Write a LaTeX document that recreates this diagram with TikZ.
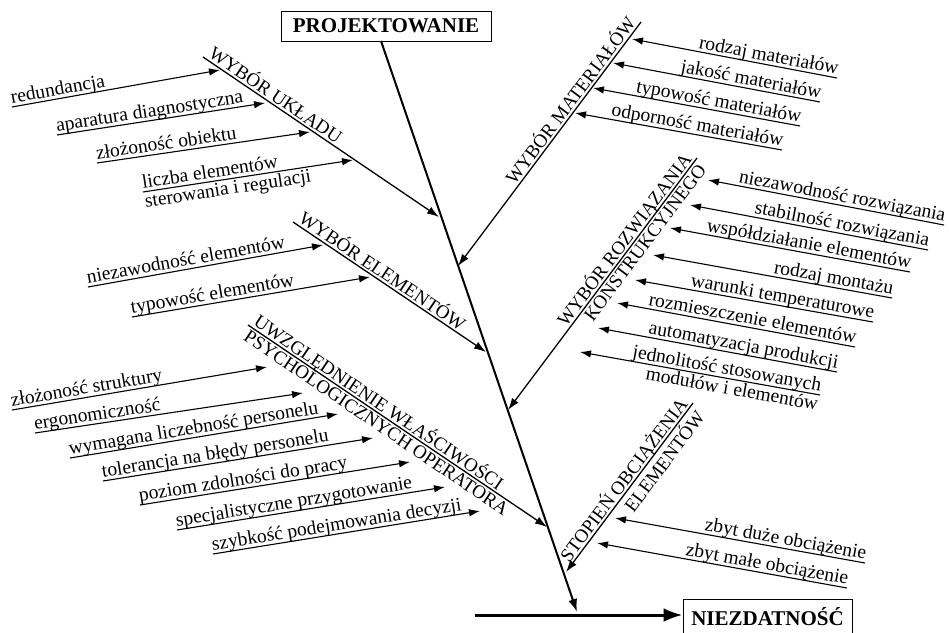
\documentclass[tikz,border=0pt]{standalone}
\usepackage{fontspec}
\setmainfont{Liberation Serif}
\usetikzlibrary{arrows.meta}
\tikzset{
  sub/.style={line width=1.1pt, -{Latex[length=11pt,width=7.5pt]}},
  branch/.style={line width=1.3pt, -{Latex[length=12pt,width=8pt]}},
  spine/.style={line width=2pt, -{Latex[length=13pt,width=9pt]}},
  mainarrow/.style={line width=3pt, -{Latex[length=19pt,width=14pt]}},
  txt/.style={font=\fontsize{19.5}{21}\selectfont, inner xsep=0pt, inner ysep=3pt, text depth=0pt, sloped},
  txtb/.style={font=\fontsize{19.5}{21}\selectfont, inner xsep=0pt, inner ysep=1.5pt, sloped},
  captxt/.style={font=\fontsize{19}{21}\selectfont, inner xsep=3pt, inner ysep=2pt, text depth=0pt, sloped},
  captxtb/.style={font=\fontsize{19}{21}\selectfont, inner xsep=3pt, inner ysep=2pt, sloped},
  hdr/.style={draw, line width=1pt, font=\bfseries\fontsize{21}{23}\selectfont, inner sep=0pt}
}
\begin{document}
\begin{tikzpicture}[x=1pt,y=-1pt]
\useasboundingbox (0,0) rectangle (949,632);
% headers
\node[hdr, minimum width=210pt, minimum height=30pt] (proj) at (386,26) {PROJEKTOWANIE};
\node[hdr, minimum width=169pt, minimum height=35pt] (niez) at (767.5,616.5) {NIEZDATNOŚĆ};
% spine
\coordinate (sp0) at (381,41);
\coordinate (sp1) at (577,612);
\draw[spine] (sp0) -- (sp1);
\coordinate (h0) at (475,615);
\draw[mainarrow] (h0) -- (niez.west |- h0);
% branch coordinates
\coordinate (b1a) at (203,57);  \coordinate (b1b) at (439,217);
\coordinate (b2a) at (293,222); \coordinate (b2b) at (486,352);
\coordinate (b3a) at (248,325); \coordinate (b3b) at (547,527);
\coordinate (b4a) at (641,22);  \coordinate (b4b) at (458,266);
\coordinate (b5a) at (697,158); \coordinate (b5b) at (508,410);
\coordinate (b6a) at (693,403); \coordinate (b6b) at (566,572);
\draw[branch] (b1a) -- node[captxt, pos=0, anchor=south west] (c1) {WYBÓR UKŁADU} (b1b);
\draw[branch] (b2a) -- node[captxt, pos=0, anchor=south west] (c2) {WYBÓR ELEMENTÓW} (b2b);
\draw[branch] (b3a) -- node[captxt, pos=0, anchor=south west] (c3) {UWZGLĘDNIENIE WŁAŚCIWOŚCI}
                       node[captxtb, pos=0, anchor=north west] (c3b) {PSYCHOLOGICZNYCH OPERATORA} (b3b);
\draw[branch] (b4a) -- node[captxt, pos=0, anchor=south east] (c4) {WYBÓR MATERIAŁÓW} (b4b);
\draw[branch] (b5a) -- node[captxt, pos=0, anchor=south east] (c5) {WYBÓR ROZWIĄZANIA}
                       node[captxtb, pos=0, anchor=north east] (c5b) {KONSTRUKCYJNEGO} (b5b);
\draw[branch] (b6a) -- node[captxt, pos=0, anchor=south east] (c6) {STOPIEŃ OBCIĄŻENIA}
                       node[captxtb, pos=0, anchor=north east] (c6b) {ELEMENTÓW} (b6b);
% left sub-causes
\coordinate (l1a) at (12,107);  \coordinate (l1b) at (220,70);
\coordinate (l2a) at (57,135);  \coordinate (l2b) at (265,103);
\coordinate (l3a) at (97,163);  \coordinate (l3b) at (310,132);
\coordinate (l4a) at (143,192); \coordinate (l4b) at (353,160);
\coordinate (l5a) at (88,287);  \coordinate (l5b) at (323,245);
\coordinate (l6a) at (132,317); \coordinate (l6b) at (370,277);
\coordinate (l7a) at (12,410);  \coordinate (l7b) at (267,367);
\coordinate (l8a) at (35,433);  \coordinate (l8b) at (303,393);
\coordinate (l9a) at (70,458);  \coordinate (l9b) at (338,414);
\coordinate (l10a) at (103,481); \coordinate (l10b) at (373,438);
\coordinate (l11a) at (140,505); \coordinate (l11b) at (410,462);
\coordinate (l12a) at (177,530); \coordinate (l12b) at (445,487);
\coordinate (l13a) at (213,554); \coordinate (l13b) at (480,511);
\draw[sub] (l1a) -- node[txt, pos=0, anchor=south west] (t1) {redundancja} (l1b);
\draw[sub] (l2a) -- node[txt, pos=0, anchor=south west] (t2) {aparatura diagnostyczna} (l2b);
\draw[sub] (l3a) -- node[txt, pos=0, anchor=south west] (t3) {złożoność obiektu} (l3b);
\draw[sub] (l4a) -- node[txt, pos=0, anchor=south west] (t4) {liczba elementów}
                    node[txtb, pos=0, anchor=north west] (t4b) {sterowania i regulacji} (l4b);
\draw[sub] (l5a) -- node[txt, pos=0, anchor=south west] (t5) {niezawodność elementów} (l5b);
\draw[sub] (l6a) -- node[txt, pos=0, anchor=south west] (t6) {typowość elementów} (l6b);
\draw[sub] (l7a) -- node[txt, pos=0, anchor=south west] (t7) {złożoność struktury} (l7b);
\draw[sub] (l8a) -- node[txt, pos=0, anchor=south west] (t8) {ergonomiczność} (l8b);
\draw[sub] (l9a) -- node[txt, pos=0, anchor=south west] (t9) {wymagana liczebność personelu} (l9b);
\draw[sub] (l10a) -- node[txt, pos=0, anchor=south west] (t10) {tolerancja na błędy personelu} (l10b);
\draw[sub] (l11a) -- node[txt, pos=0, anchor=south west] (t11) {poziom zdolności do pracy} (l11b);
\draw[sub] (l12a) -- node[txt, pos=0, anchor=south west] (t12) {specjalistyczne przygotowanie} (l12b);
\draw[sub] (l13a) -- node[txt, pos=0, anchor=south west] (t13) {szybkość podejmowania decyzji} (l13b);
% right sub-causes
\coordinate (r1a) at (837,78);  \coordinate (r1b) at (632,39);
\coordinate (r2a) at (820,102); \coordinate (r2b) at (613,63);
\coordinate (r3a) at (800,126); \coordinate (r3b) at (593,88);
\coordinate (r4a) at (782,150); \coordinate (r4b) at (575,113);
\coordinate (r5a) at (944,225); \coordinate (r5b) at (708,180);
\coordinate (r6a) at (928,250); \coordinate (r6b) at (690,205);
\coordinate (r7a) at (910,272); \coordinate (r7b) at (670,228);
\coordinate (r8a) at (892,298); \coordinate (r8b) at (653,255);
\coordinate (r9a) at (873,322); \coordinate (r9b) at (635,280);
\coordinate (r10a) at (855,347); \coordinate (r10b) at (617,303);
\coordinate (r11a) at (837,372); \coordinate (r11b) at (598,328);
\coordinate (r12a) at (820,395); \coordinate (r12b) at (580,352);
\coordinate (r13a) at (865,563); \coordinate (r13b) at (615,518);
\coordinate (r14a) at (847,588); \coordinate (r14b) at (597,543);
\draw[sub] (r1a) -- node[txt, pos=0, anchor=south east] (s1) {rodzaj materiałów} (r1b);
\draw[sub] (r2a) -- node[txt, pos=0, anchor=south east] (s2) {jakość materiałów} (r2b);
\draw[sub] (r3a) -- node[txt, pos=0, anchor=south east] (s3) {typowość materiałów} (r3b);
\draw[sub] (r4a) -- node[txt, pos=0, anchor=south east] (s4) {odporność materiałów} (r4b);
\draw[sub] (r5a) -- node[txt, pos=0, anchor=south east] (s5) {niezawodność rozwiązania} (r5b);
\draw[sub] (r6a) -- node[txt, pos=0, anchor=south east] (s6) {stabilność rozwiązania} (r6b);
\draw[sub] (r7a) -- node[txt, pos=0, anchor=south east] (s7) {współdziałanie elementów} (r7b);
\draw[sub] (r8a) -- node[txt, pos=0, anchor=south east] (s8) {rodzaj montażu} (r8b);
\draw[sub] (r9a) -- node[txt, pos=0, anchor=south east] (s9) {warunki temperaturowe} (r9b);
\draw[sub] (r10a) -- node[txt, pos=0, anchor=south east] (s10) {rozmieszczenie elementów} (r10b);
\draw[sub] (r11a) -- node[txt, pos=0, anchor=south east] (s11) {automatyzacja produkcji} (r11b);
\draw[sub] (r12a) -- node[txt, pos=0, anchor=south east] (s12) {jednolitość stosowanych}
                     node[txtb, pos=0, anchor=north east] (s12b) {modułów i elementów} (r12b);
\draw[sub] (r13a) -- node[txt, pos=0, anchor=south east] (s13) {zbyt duże obciążenie} (r13b);
\draw[sub] (r14a) -- node[txt, pos=0, anchor=south east] (s14) {zbyt małe obciążenie} (r14b);
\end{tikzpicture}
\end{document}
